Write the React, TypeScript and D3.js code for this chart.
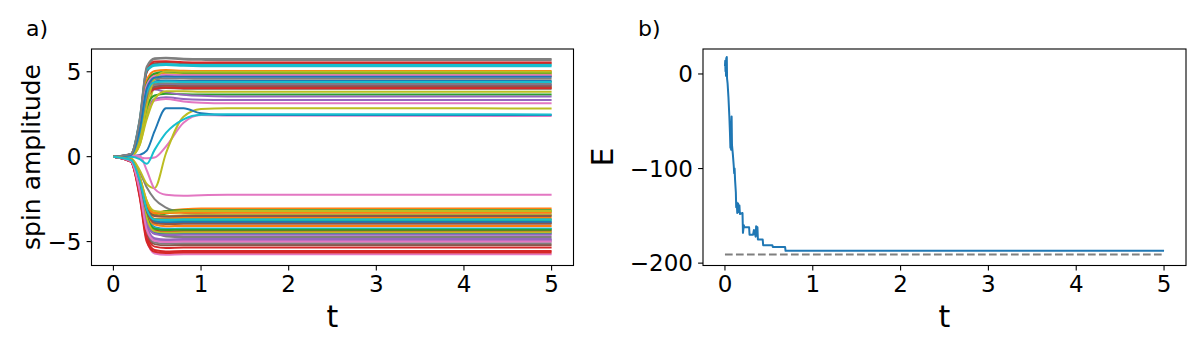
import React from 'react'
import * as d3 from 'd3'

// time knots where each spin trajectory was read off panel a)
const TIMES = [0, 0.2, 0.3, 0.38, 0.47, 0.6, 0.8, 1.0, 1.3, 5]

// spin amplitudes at TIMES, in plotting order (colour = index % 10)
const SPINS: number[][] = [
  [0, 0.1, 1.4, 3.6, 4.2, 4.28, 4.25, 4.25, 4.25, 4.25],
  [0, 0.12, 1.8, 4.3, 4.85, 4.9, 4.86, 4.85, 4.85, 4.85],
  [0, 0.08, 1.2, 3.5, 4.35, 4.45, 4.42, 4.41, 4.41, 4.41],
  [0, 0.1, 1.6, 4.1, 4.7, 4.78, 4.75, 4.74, 4.74, 4.74],
  [0, 0.06, 0.9, 2.6, 3.4, 3.5, 3.4, 3.35, 3.33, 3.33],
  [0, 0.15, 2.0, 5.0, 5.5, 5.55, 5.5, 5.49, 5.49, 5.49],
  [0, 0.05, 0.8, 2.4, 3.3, 3.4, 3.25, 3.18, 3.15, 3.14],
  [0, 0.15, 2.1, 5.2, 5.75, 5.8, 5.72, 5.7, 5.68, 5.68],
  [0, 0.05, 0.7, 2.5, 4.2, 4.85, 4.92, 4.9, 4.9, 4.9],
  [0, 0.14, 2.0, 5.0, 5.35, 5.4, 5.35, 5.33, 5.33, 5.33],

  [0, -0.2, -1.5, -3.4, -4.15, -4.25, -4.24, -4.24, -4.24, -4.24],
  [0, -0.15, -1.2, -2.6, -3.3, -3.2, -3.1, -3.06, -3.06, -3.06],
  [0, -0.15, -1.3, -2.8, -3.5, -3.35, -3.25, -3.24, -3.24, -3.24],
  [0, -0.25, -1.8, -3.8, -4.35, -4.4, -4.38, -4.38, -4.38, -4.38],
  [0, -0.25, -1.9, -4.2, -4.9, -5.0, -4.96, -4.96, -4.96, -4.96],
  [0, -0.2, -1.4, -3.1, -3.8, -3.92, -3.9, -3.9, -3.9, -3.9],
  [0, -0.2, -1.6, -3.7, -4.5, -4.6, -4.57, -4.57, -4.57, -4.57],
  [0, -0.15, -0.9, -1.8, -2.5, -3.0, -3.3, -3.38, -3.4, -3.4],
  [0, -0.15, -1.2, -2.8, -3.4, -3.5, -3.45, -3.45, -3.45, -3.45],
  [0, -0.2, -1.6, -3.3, -3.9, -3.82, -3.79, -3.79, -3.79, -3.79],

  [0, 0.1, 1.5, 3.8, 4.42, 4.48, 4.45, 4.45, 4.45, 4.45],
  [0, 0.08, 1.2, 3.4, 4.05, 4.12, 4.1, 4.1, 4.1, 4.1],
  [0, 0.06, 1.0, 2.9, 3.6, 3.7, 3.67, 3.66, 3.66, 3.66],
  [0, 0.16, 2.1, 5.0, 5.6, 5.62, 5.56, 5.55, 5.55, 5.55],
  [0, 0.08, 1.3, 3.5, 3.95, 3.8, 3.65, 3.58, 3.55, 3.55],
  [0, 0.08, 1.3, 3.4, 4.0, 4.05, 4.0, 4.0, 4.0, 4.0],
  [0, 0.02, -0.05, -0.1, -0.05, 0.6, 2.0, 2.45, 2.42, 2.39],
  [0, 0.1, 1.5, 3.9, 4.55, 4.62, 4.6, 4.59, 4.59, 4.59],
  [0, 0.05, 0.7, 2.2, 3.4, 3.85, 3.85, 3.82, 3.82, 3.82],
  [0, 0.15, 2.2, 5.1, 5.42, 5.45, 5.41, 5.4, 5.4, 5.4],

  [0, -0.2, -1.4, -3.1, -3.8, -3.88, -3.85, -3.85, -3.85, -3.85],
  [0, -0.18, -1.3, -2.9, -3.65, -3.62, -3.6, -3.6, -3.6, -3.6],
  [0, -0.2, -1.4, -3.0, -3.4, -3.2, -3.15, -3.15, -3.15, -3.15],
  [0, -0.3, -2.2, -4.6, -5.3, -5.38, -5.35, -5.35, -5.35, -5.35],
  [0, -0.25, -1.9, -4.1, -4.8, -4.88, -4.85, -4.85, -4.85, -4.85],
  [0, -0.28, -2.0, -4.4, -5.15, -5.22, -5.2, -5.2, -5.2, -5.2],
  [0, -0.3, -2.3, -4.9, -5.7, -5.78, -5.75, -5.75, -5.75, -5.75],
  [0, -0.2, -1.4, -3.3, -4.4, -4.7, -4.73, -4.73, -4.73, -4.73],
  [0, -0.1, -0.8, -1.6, -1.85, 0.2, 2.35, 2.8, 2.85, 2.84],
  [0, -0.22, -1.6, -3.5, -4.2, -4.27, -4.25, -4.25, -4.25, -4.25],

  [0, 0.03, 0.1, 0.35, 1.5, 2.85, 2.85, 2.55, 2.46, 2.45],
  [0, 0.12, 1.8, 4.5, 5.05, 5.1, 5.06, 5.05, 5.05, 5.05],
  [0, 0.1, 1.7, 4.3, 4.9, 5.0, 4.96, 4.95, 4.95, 4.95],
  [0, 0.08, 1.2, 3.3, 4.0, 4.08, 4.05, 4.05, 4.05, 4.05],
  [0, 0.1, 1.4, 3.6, 4.15, 4.22, 4.2, 4.2, 4.2, 4.2],
  [0, 0.09, 1.3, 3.5, 4.1, 4.18, 4.15, 4.15, 4.15, 4.15],
  [0, 0.12, 1.7, 4.2, 4.75, 4.82, 4.8, 4.8, 4.8, 4.8],
  [0, 0.09, 1.3, 3.6, 4.25, 4.32, 4.3, 4.3, 4.3, 4.3],
  [0, 0.06, 0.9, 3.0, 4.6, 5.02, 5.0, 5.0, 5.0, 5.0],
  [0, 0.1, 1.5, 3.8, 4.38, 4.42, 4.4, 4.4, 4.4, 4.4],

  [0, -0.22, -1.7, -3.7, -4.45, -4.52, -4.5, -4.5, -4.5, -4.5],
  [0, -0.2, -1.5, -3.3, -4.0, -4.1, -4.08, -4.08, -4.08, -4.08],
  [0, -0.22, -1.6, -3.5, -4.25, -4.32, -4.3, -4.3, -4.3, -4.3],
  [0, -0.3, -2.3, -4.8, -5.5, -5.58, -5.55, -5.55, -5.55, -5.55],
  [0, -0.24, -1.8, -3.9, -4.55, -4.62, -4.6, -4.6, -4.6, -4.6],
  [0, -0.18, -1.3, -2.9, -3.5, -3.52, -3.5, -3.5, -3.5, -3.5],
  [0, 0.05, 0.05, -0.8, -1.9, -2.25, -2.3, -2.27, -2.25, -2.25],
  [0, -0.28, -2.0, -4.3, -5.05, -5.12, -5.1, -5.1, -5.1, -5.1],
  [0, -0.22, -1.6, -3.6, -4.4, -4.47, -4.45, -4.45, -4.45, -4.45],
  [0, 0.0, -0.15, -0.42, 0.4, 1.4, 2.2, 2.47, 2.5, 2.49],

  [0, 0.1, 1.6, 4.0, 4.65, 4.72, 4.7, 4.7, 4.7, 4.7],
  [0, -0.18, -1.3, -2.8, -3.35, -3.32, -3.3, -3.3, -3.3, -3.3],
  [0, -0.2, -1.4, -3.1, -3.7, -3.72, -3.7, -3.7, -3.7, -3.7],
  [0, -0.3, -2.4, -5.0, -5.6, -5.68, -5.65, -5.65, -5.65, -5.65],
  [0, -0.26, -1.9, -4.1, -4.85, -4.92, -4.9, -4.9, -4.9, -4.9],
  [0, -0.2, -1.5, -3.2, -3.9, -3.97, -3.95, -3.95, -3.95, -3.95],
  [0, -0.26, -2.0, -4.3, -4.95, -5.02, -5.0, -5.0, -5.0, -5.0],
  [0, 0.15, 2.2, 5.3, 5.8, 5.82, 5.77, 5.75, 5.75, 5.75],
  [0, -0.18, -1.2, -2.6, -3.2, -3.25, -3.2, -3.2, -3.2, -3.2],
  [0, -0.2, -1.4, -3.1, -3.7, -3.72, -3.7, -3.7, -3.7, -3.7],
]

// energy trace of panel b)
const E_T = [
  0, 0.003, 0.006, 0.009, 0.012, 0.015, 0.018, 0.021, 0.024, 0.03, 0.04, 0.05,
  0.057, 0.062, 0.066, 0.07, 0.076, 0.08, 0.09, 0.1, 0.105, 0.11, 0.115, 0.124,
  0.128, 0.135, 0.14, 0.15, 0.155, 0.165, 0.17, 0.2, 0.205, 0.215, 0.22, 0.275,
  0.28, 0.32, 0.33, 0.35, 0.355, 0.37, 0.375, 0.43, 0.435, 0.54, 0.545, 0.685,
  0.69, 5,
]
const E_VAL = [
  8, 14, 3, 12, -2, 17, 5, 18, -5, -10, -25, -45, -62, -78, -55, -80, -45, -75,
  -85, -97, -105, -100, -112, -125, -141, -136, -147, -137, -146, -139, -148,
  -147, -168, -160, -162, -162, -170, -170, -165, -172, -161, -162, -175, -175,
  -181, -181, -183, -183, -187, -187,
]
const E_GROUND = -191

const T_TICKS = [0, 1, 2, 3, 4, 5]
const SPIN_TICKS = [-5, 0, 5]
const E_TICKS = [0, -100, -200]

const COLORS = [
  '#1f77b4', '#ff7f0e', '#2ca02c', '#d62728', '#9467bd',
  '#8c564b', '#e377c2', '#7f7f7f', '#bcbd22', '#17becf',
]

const FONT = 'DejaVu Sans, sans-serif'
const TICK_SIZE = 23
const fmt = (v: number) => (v < 0 ? '\u2212' + Math.abs(v) : String(v))

type Box = { left: number; right: number; top: number; bottom: number }

const Axes = ({ box, x, y, yTicks, children }: any) => {
  const b: Box = box
  return (
    <g>
      {children}
      <rect
        x={b.left}
        y={b.top}
        width={b.right - b.left}
        height={b.bottom - b.top}
        fill="none"
        stroke="#000"
        strokeWidth={1.1}
      />
      {T_TICKS.map((t) => (
        <g key={'x' + t}>
          <line x1={x(t)} x2={x(t)} y1={b.bottom} y2={b.bottom + 4.9} stroke="#000" strokeWidth={1.1} />
          <text x={x(t)} y={b.bottom + 26.5} textAnchor="middle" fontSize={TICK_SIZE} fontFamily={FONT}>
            {fmt(t)}
          </text>
        </g>
      ))}
      {yTicks.map((v: number) => (
        <g key={'y' + v}>
          <line x1={b.left - 4.9} x2={b.left} y1={y(v)} y2={y(v)} stroke="#000" strokeWidth={1.1} />
          <text x={b.left - 10} y={y(v) + 8.3} textAnchor="end" fontSize={TICK_SIZE} fontFamily={FONT}>
            {fmt(v)}
          </text>
        </g>
      ))}
      <text x={(b.left + b.right) / 2} y={327} textAnchor="middle" fontSize={30} fontFamily={FONT}>
        t
      </text>
    </g>
  )
}

export default function App() {
  const boxA: Box = { left: 91.5, right: 573.5, top: 49, bottom: 265.5 }
  const boxB: Box = { left: 703, right: 1186, top: 49, bottom: 265.5 }

  const xA = d3.scaleLinear().domain([-0.25, 5.25]).range([boxA.left, boxA.right])
  const yA = d3.scaleLinear().domain([-6.41, 6.34]).range([boxA.bottom, boxA.top])
  const xB = d3.scaleLinear().domain([-0.25, 5.25]).range([boxB.left, boxB.right])
  const yB = d3.scaleLinear().domain([-202.5, 26.4]).range([boxB.bottom, boxB.top])

  const spinLine = d3
    .line<number>()
    .x((_, i) => xA(TIMES[i]))
    .y((d) => yA(d))
    .curve(d3.curveMonotoneX)

  const energyLine = d3
    .line<number>()
    .x((_, i) => xB(E_T[i]))
    .y((d) => yB(d))

  return (
    <svg
      width={1200}
      height={350}
      style={{ position: 'absolute', left: 0, top: 0, background: '#fff' }}
    >
      <rect width={1200} height={350} fill="#fff" />

      {/* panel a) */}
      <Axes box={boxA} x={xA} y={yA} yTicks={SPIN_TICKS}>
        {SPINS.map((s, i) => (
          <path
            key={i}
            d={spinLine(s) || ''}
            fill="none"
            stroke={COLORS[i % 10]}
            strokeWidth={2}
            strokeLinejoin="round"
          />
        ))}
      </Axes>
      <text
        transform="translate(40,157) rotate(-90)"
        textAnchor="middle"
        fontSize={25}
        fontFamily={FONT}
      >
        spin amplitude
      </text>
      <text x={26} y={36} fontSize={22} fontFamily={FONT}>
        a)
      </text>

      {/* panel b) */}
      <Axes box={boxB} x={xB} y={yB} yTicks={E_TICKS}>
        <line
          x1={xB(0)}
          x2={xB(5)}
          y1={yB(E_GROUND)}
          y2={yB(E_GROUND)}
          stroke="#7f7f7f"
          strokeWidth={2}
          strokeDasharray="7.7 3.3"
        />
        <path d={energyLine(E_VAL) || ''} fill="none" stroke="#1f77b4" strokeWidth={2} strokeLinejoin="round" />
      </Axes>
      <text
        transform="translate(613,157) rotate(-90)"
        textAnchor="middle"
        fontSize={30}
        fontFamily={FONT}
      >
        E
      </text>
      <text x={638} y={36} fontSize={22} fontFamily={FONT}>
        b)
      </text>
    </svg>
  )
}
